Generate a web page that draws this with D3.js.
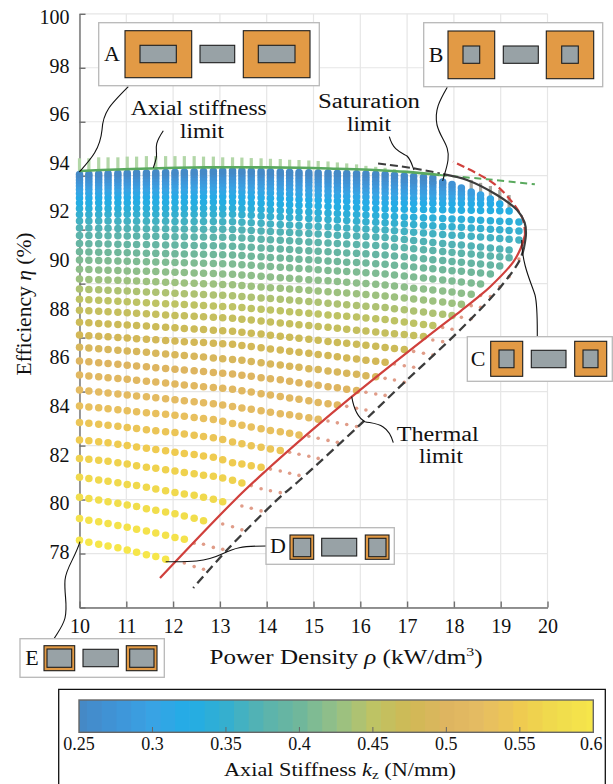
<!DOCTYPE html>
<html>
<head>
<meta charset="utf-8">
<script src="https://cdn.jsdelivr.net/npm/d3@7"></script>
<style>
body { margin: 0; background: #fff; }
svg { display: block; }
svg text { font-family: "Liberation Serif", "Times New Roman", "DejaVu Serif", serif !important; fill: #111; }
</style>
</head>
<body>
<svg id="chart" width="613" height="784"></svg>
<script>
// power density columns of the sweep (kW/dm3)
const rhoColumns = [10,10.2,10.41,10.61,10.82,11.02,11.22,11.43,11.63,11.84,12.04,12.24,12.45,12.65,12.86,13.06,13.27,13.47,13.67,13.88,14.08,14.29,14.49,14.69,14.9,15.1,15.31,15.51,15.71,15.92,16.12,16.33,16.53,16.73,16.94,17.14,17.35,17.55,17.76,17.96,18.16,18.37,18.57,18.78,18.98,19.18,19.39];

// axial stiffness of each row, bottom row first
const kzValues = [0.60,0.59,0.58,0.57,0.56,0.55,0.54,0.53,0.52,0.51,0.50,0.49,0.48,0.47,0.46,0.45,0.44,0.43,0.42,0.41,0.40,0.39,0.38,0.37,0.36,0.35,0.34,0.33,0.32,0.31,0.30,0.29,0.28,0.27,0.26,0.25];

// efficiency per row, one value per column starting at rho = 10
const etaRows = [
[78.48,78.40,78.32,78.25,78.17,78.08,77.99,77.89,77.81,77.70],
[79.38,79.31,79.24,79.17,79.09,79.02,78.94,78.86,78.78,78.69,78.60,78.52],
[80.25,80.20,80.14,80.07,80.00,79.93,79.87,79.78,79.72,79.65,79.57,79.48,79.39,79.29],
[81.07,81.02,80.96,80.91,80.85,80.78,80.73,80.66,80.59,80.52,80.45,80.39,80.33,80.25,80.17,80.07],
[81.85,81.81,81.77,81.73,81.67,81.62,81.55,81.49,81.44,81.38,81.33,81.27,81.22,81.16,81.11,81.04,80.95,80.84],
[82.61,82.57,82.53,82.49,82.43,82.38,82.32,82.27,82.21,82.16,82.10,82.05,82.01,81.95,81.90,81.79,81.67,81.62,81.55,81.48],
[83.33,83.29,83.25,83.21,83.17,83.12,83.08,83.03,82.99,82.95,82.91,82.85,82.80,82.75,82.70,82.63,82.52,82.45,82.37,82.31,82.24,82.17],
[84.00,83.96,83.93,83.89,83.85,83.81,83.77,83.73,83.70,83.66,83.62,83.58,83.53,83.49,83.45,83.38,83.28,83.21,83.14,83.07,83.00,82.94,82.88,82.81],
[84.66,84.62,84.58,84.54,84.50,84.46,84.42,84.38,84.34,84.30,84.26,84.22,84.18,84.14,84.10,84.05,83.98,83.92,83.87,83.81,83.75,83.69,83.64,83.58,83.52,83.46],
[85.28,85.24,85.21,85.17,85.13,85.10,85.06,85.02,84.99,84.95,84.91,84.87,84.84,84.80,84.76,84.73,84.69,84.63,84.58,84.51,84.46,84.39,84.33,84.28,84.22,84.15,84.10,84.05],
[85.85,85.82,85.78,85.75,85.72,85.68,85.65,85.62,85.58,85.55,85.52,85.48,85.45,85.42,85.38,85.35,85.32,85.27,85.23,85.17,85.12,85.08,85.02,84.96,84.91,84.86,84.80,84.75,84.69,84.64],
[86.42,86.39,86.36,86.33,86.30,86.27,86.24,86.21,86.17,86.14,86.11,86.08,86.05,86.02,85.98,85.95,85.92,85.88,85.83,85.78,85.73,85.69,85.64,85.60,85.54,85.50,85.44,85.40,85.35,85.31,85.25,85.21],
[86.92,86.89,86.87,86.85,86.82,86.80,86.77,86.75,86.73,86.70,86.68,86.65,86.63,86.61,86.58,86.56,86.54,86.49,86.45,86.40,86.35,86.31,86.26,86.21,86.17,86.12,86.08,86.03,85.98,85.94,85.89,85.84,85.80],
[87.45,87.43,87.40,87.38,87.36,87.33,87.31,87.29,87.26,87.24,87.22,87.19,87.17,87.15,87.12,87.10,87.08,87.04,87.00,86.96,86.91,86.87,86.83,86.79,86.75,86.71,86.66,86.62,86.58,86.54,86.50,86.46,86.41,86.37,86.33],
[87.94,87.92,87.90,87.88,87.86,87.84,87.82,87.80,87.78,87.75,87.73,87.71,87.69,87.67,87.65,87.63,87.61,87.57,87.54,87.50,87.46,87.42,87.39,87.35,87.31,87.27,87.24,87.20,87.16,87.12,87.09,87.05,87.01,86.97,86.94,86.90,86.86],
[88.39,88.37,88.35,88.33,88.31,88.29,88.27,88.25,88.23,88.21,88.20,88.18,88.16,88.14,88.12,88.10,88.08,88.05,88.01,87.98,87.95,87.92,87.88,87.85,87.82,87.79,87.75,87.72,87.69,87.66,87.62,87.59,87.56,87.51,87.46,87.41,87.36,87.31],
[88.81,88.79,88.78,88.76,88.74,88.73,88.71,88.69,88.68,88.66,88.64,88.62,88.61,88.59,88.57,88.56,88.54,88.51,88.48,88.45,88.42,88.39,88.36,88.33,88.30,88.27,88.23,88.20,88.17,88.14,88.11,88.08,88.05,88.00,87.96,87.91,87.87,87.82,87.78,87.73],
[89.23,89.21,89.20,89.18,89.17,89.15,89.14,89.12,89.11,89.09,89.08,89.06,89.05,89.03,89.02,89.00,88.99,88.96,88.93,88.90,88.87,88.85,88.82,88.79,88.76,88.73,88.70,88.67,88.65,88.62,88.59,88.56,88.53,88.49,88.45,88.40,88.36,88.32,88.28,88.23,88.19],
[89.63,89.62,89.60,89.59,89.58,89.56,89.55,89.54,89.53,89.51,89.50,89.49,89.47,89.46,89.45,89.43,89.42,89.39,89.37,89.34,89.31,89.28,89.26,89.23,89.20,89.17,89.15,89.12,89.09,89.06,89.04,89.01,88.98,88.94,88.90,88.85,88.81,88.77,88.73,88.69,88.64,88.60],
[90.01,90.00,89.99,89.98,89.97,89.96,89.95,89.94,89.93,89.91,89.90,89.89,89.88,89.87,89.86,89.85,89.84,89.81,89.79,89.76,89.74,89.71,89.69,89.66,89.64,89.61,89.58,89.56,89.53,89.51,89.48,89.46,89.43,89.39,89.35,89.31,89.27,89.23,89.18,89.14,89.10,89.06,89.02],
[90.35,90.34,90.33,90.32,90.32,90.31,90.30,90.29,90.28,90.27,90.26,90.25,90.25,90.24,90.23,90.22,90.21,90.19,90.16,90.14,90.11,90.09,90.07,90.04,90.02,90.00,89.97,89.95,89.92,89.90,89.88,89.85,89.83,89.79,89.76,89.72,89.68,89.65,89.61,89.57,89.54,89.50,89.47,89.43],
[90.69,90.68,90.68,90.67,90.66,90.65,90.65,90.64,90.63,90.62,90.62,90.61,90.60,90.59,90.59,90.58,90.57,90.55,90.53,90.50,90.48,90.46,90.44,90.41,90.39,90.37,90.35,90.32,90.30,90.28,90.26,90.23,90.21,90.17,90.14,90.10,90.06,90.02,89.99,89.95,89.91,89.87,89.84,89.80,89.76],
[91.02,91.01,91.01,91.00,91.00,90.99,90.99,90.98,90.98,90.97,90.96,90.96,90.95,90.95,90.94,90.94,90.93,90.91,90.89,90.86,90.84,90.82,90.80,90.78,90.75,90.73,90.71,90.69,90.67,90.65,90.62,90.60,90.58,90.54,90.51,90.47,90.43,90.40,90.36,90.32,90.28,90.25,90.21,90.17,90.14,90.10],
[91.32,91.32,91.31,91.31,91.30,91.30,91.30,91.29,91.29,91.29,91.28,91.28,91.28,91.27,91.27,91.27,91.26,91.24,91.22,91.20,91.18,91.16,91.14,91.12,91.10,91.08,91.06,91.03,91.01,90.99,90.97,90.95,90.93,90.89,90.85,90.81,90.77,90.73,90.69,90.65,90.62,90.58,90.54,90.50,90.46,90.42],
[91.61,91.61,91.61,91.61,91.60,91.60,91.60,91.60,91.60,91.60,91.59,91.59,91.59,91.59,91.59,91.58,91.58,91.56,91.54,91.52,91.49,91.47,91.45,91.43,91.41,91.39,91.37,91.34,91.32,91.30,91.28,91.26,91.24,91.21,91.18,91.15,91.12,91.09,91.06,91.03,91.01,90.98,90.95,90.92,90.89,90.86,90.83],
[91.88,91.88,91.88,91.89,91.89,91.89,91.89,91.89,91.89,91.89,91.89,91.89,91.89,91.89,91.89,91.89,91.89,91.87,91.85,91.82,91.80,91.78,91.76,91.74,91.71,91.69,91.67,91.65,91.63,91.60,91.58,91.56,91.54,91.52,91.49,91.47,91.44,91.42,91.39,91.37,91.35,91.32,91.30,91.27,91.25,91.22,91.20],
[92.13,92.13,92.13,92.13,92.13,92.13,92.14,92.14,92.14,92.14,92.14,92.14,92.14,92.14,92.14,92.14,92.14,92.12,92.10,92.08,92.06,92.04,92.02,92.00,91.98,91.96,91.94,91.92,91.90,91.88,91.86,91.84,91.82,91.80,91.78,91.77,91.75,91.73,91.71,91.69,91.68,91.66,91.64,91.62,91.60,91.59,91.57],
[92.35,92.35,92.36,92.36,92.36,92.36,92.37,92.37,92.37,92.37,92.38,92.38,92.38,92.38,92.39,92.39,92.39,92.37,92.35,92.34,92.32,92.30,92.28,92.26,92.25,92.23,92.21,92.19,92.17,92.16,92.14,92.12,92.10,92.09,92.09,92.08,92.08,92.07,92.07,92.06,92.05,92.05,92.04,92.04,92.03,92.02],
[92.56,92.56,92.57,92.57,92.58,92.58,92.58,92.59,92.59,92.59,92.60,92.60,92.60,92.61,92.61,92.62,92.62,92.60,92.59,92.57,92.55,92.54,92.52,92.50,92.49,92.47,92.45,92.43,92.42,92.40,92.38,92.37,92.35,92.35,92.35,92.34,92.34,92.34,92.33,92.33,92.33,92.32,92.32,92.32,92.31],
[92.74,92.75,92.75,92.76,92.76,92.77,92.77,92.78,92.78,92.79,92.79,92.80,92.80,92.81,92.81,92.82,92.82,92.80,92.79,92.77,92.76,92.74,92.72,92.71,92.69,92.68,92.66,92.64,92.63,92.61,92.60,92.58,92.56,92.56,92.56,92.55,92.55,92.55,92.54,92.54,92.54,92.53,92.53,92.52],
[92.91,92.92,92.92,92.93,92.93,92.94,92.95,92.95,92.96,92.96,92.97,92.98,92.98,92.99,92.99,93.00,93.01,92.99,92.98,92.96,92.95,92.93,92.92,92.90,92.88,92.87,92.85,92.84,92.82,92.81,92.79,92.78,92.76,92.75,92.74,92.74,92.73,92.72,92.71,92.70,92.70,92.69,92.68],
[93.05,93.06,93.06,93.07,93.08,93.09,93.09,93.10,93.11,93.11,93.12,93.13,93.14,93.14,93.15,93.16,93.17,93.15,93.14,93.12,93.11,93.09,93.08,93.06,93.05,93.03,93.02,93.00,92.99,92.97,92.96,92.94,92.93,92.91,92.90,92.88,92.87,92.85,92.84,92.83,92.81,92.80],
[93.17,93.18,93.19,93.20,93.21,93.21,93.22,93.23,93.24,93.25,93.26,93.27,93.27,93.28,93.29,93.30,93.31,93.30,93.28,93.27,93.25,93.24,93.23,93.21,93.20,93.18,93.17,93.16,93.14,93.13,93.12,93.10,93.09,93.07,93.06,93.04,93.03,93.01,93.00,92.98,92.97],
[93.30,93.31,93.32,93.33,93.33,93.34,93.35,93.36,93.37,93.38,93.38,93.39,93.40,93.41,93.42,93.43,93.44,93.43,93.42,93.40,93.39,93.38,93.37,93.35,93.34,93.33,93.32,93.30,93.29,93.28,93.27,93.25,93.24,93.22,93.20,93.18,93.17,93.15,93.13,93.11],
[93.42,93.43,93.44,93.45,93.46,93.47,93.48,93.49,93.49,93.50,93.51,93.52,93.53,93.54,93.55,93.56,93.57,93.56,93.55,93.53,93.52,93.51,93.50,93.49,93.48,93.46,93.45,93.44,93.43,93.42,93.40,93.39,93.38,93.35,93.32,93.29,93.27,93.24,93.21],
[93.52,93.53,93.54,93.55,93.56,93.57,93.58,93.59,93.60,93.61,93.62,93.63,93.64,93.65,93.66,93.67,93.68,93.67,93.66,93.65,93.64,93.63,93.62,93.61,93.60,93.59,93.58,93.57,93.56,93.55,93.54,93.53,93.52,93.49,93.46,93.44,93.41,93.38]
];

// points past the thermal limit: [row, first column, eta values]
const thermalRows = [
[0,11,[77.55,77.40,77.29]],
[1,12,[78.36,78.32,78.19,78.11]],
[2,15,[79.15,79.04,78.91]],
[3,17,[79.89,79.80,79.69]],
[4,18,[80.73,80.60,80.52,80.44]],
[5,20,[81.41,81.33,81.24,81.15]],
[6,22,[82.10,82.02,81.94,81.85]],
[7,24,[82.76,82.68,82.59,82.51]],
[8,26,[83.39,83.31,83.24,83.16]],
[9,28,[83.99,83.91,83.84]],
[10,30,[84.57,84.50,84.44]],
[11,32,[85.14,85.07,84.98]],
[12,33,[85.73,85.66,85.60]],
[13,35,[86.25,86.17,86.10]],
[14,37,[86.72,86.65]],
[15,38,[87.23,87.16]],
[16,40,[87.65,87.59]],
[17,41,[88.13,88.06]],
[18,42,[88.55,88.50]],
[19,44,[88.91]],
[20,45,[89.32]],
[22,46,[90.05]]
];

// top of the stacks past the stiffness limit, columns 0 to 34
const stiffnessTop = [94.19,94.19,94.23,94.23,94.23,94.26,94.26,94.28,94.28,94.28,94.28,94.28,94.28,94.26,94.26,94.23,94.23,94.22,94.20,94.19,94.17,94.16,94.13,94.12,94.10,94.08,94.06,94.02,93.98,93.94,93.88,93.84,93.80,93.74,93.68];

// stacks past the saturation limit
const saturationCols = [41,42,43,44,45];
const saturationTop = [93.30,93.18,93.05,92.89,92.68];
const saturationBase = [92.80,92.68,92.52,92.31,92.02];

// limit curves as [rho, eta]
const stiffnessLimit = [[10,93.67],[10.8,93.73],[11.5,93.77],[12.4,93.81],[13.28,93.82],[14.71,93.80],[15.5,93.76],[16.31,93.71],[17.0,93.63],[17.70,93.50]];
const stiffnessDash = [[17.70,93.50],[18.7,93.33],[19.73,93.12]];
const saturationSolid = [[17.77,93.54],[18.28,93.30],[18.92,92.68],[19.35,92.06],[19.51,91.55],[19.54,91.12],[19.50,90.54]];
const saturationDashTop = [[16.38,93.98],[17.13,93.78],[17.70,93.57]];
const saturationDash = [[19.50,90.54],[19.41,90.01],[18.98,88.86],[18.13,87.13],[16.95,84.99],[16.06,83.35],[14.71,80.96],[14.22,80.14],[13.15,78.08],[12.43,76.52]];
const thermalSolid = [[11.72,76.93],[13.32,80.14],[14.0,81.37],[14.93,82.95],[15.82,84.39],[17.42,86.84],[18.17,87.95],[18.49,88.44],[18.77,88.90],[19.27,89.93],[19.43,90.50],[19.52,91.04]];
const thermalDash = [[19.52,91.04],[19.48,91.65],[19.26,92.35],[18.84,93.17],[17.98,94.05]];

// colour bar
const kzStops = [0.25,0.275,0.30,0.325,0.35,0.375,0.40,0.425,0.45,0.475,0.50,0.525,0.55,0.575,0.60];
const kzColors = ["#4589c6","#3f94d8","#38a3e4","#22ade6","#35afcf","#58b3af","#70b79b","#95c086","#bec364","#d0b955","#deb560","#e6bd62","#efcb50","#f0dc4c","#f6e64a"];
const kzTicks = [0.25,0.3,0.35,0.4,0.45,0.5,0.55,0.6];

const rhoTicks = [10,11,12,13,14,15,16,17,18,19,20];
const etaLabels = [100,98,96,94,92,90,88,86,84,82,80,78];
const gridLines = [0,1,2,3,4,5,6,7,8,9,10,11];

const ORANGE = "#e29a45", STEEL = "#98a2a6";

var svg = d3.select("#chart");
var x = d3.scaleLinear().domain([10, 20]).range([79.5, 547.5]);
var y = d3.scaleLinear().domain([78, 100]).range([552, 17]);
// the horizontal grid does not sit on the labels in the source figure
var gridY = d3.scaleLinear().domain([0, 11]).range([13.8, 607.5]);
var kzColor = d3.scaleLinear().domain(kzStops).range(kzColors);

// grid
var grid = svg.append("g").attr("stroke", "#e6e6e6").attr("stroke-width", 1.2);
grid.selectAll("line.v").data(rhoTicks).join("line")
    .attr("x1", d => x(d)).attr("x2", d => x(d))
    .attr("y1", gridY(0)).attr("y2", gridY(11));
grid.selectAll("line.h").data(gridLines).join("line")
    .attr("x1", x(10)).attr("x2", x(20))
    .attr("y1", d => gridY(d)).attr("y2", d => gridY(d));

// axes go under the points
var yGrid = d3.axisLeft(gridY).tickValues(gridLines).tickSizeInner(-6).tickSizeOuter(0).tickFormat("");
var gy = svg.append("g").attr("transform", "translate(" + x(10) + ",0)").call(yGrid);
gy.selectAll("line,path").attr("stroke", "#6f6f6f").attr("stroke-width", 1.4);

var gx = svg.append("g").attr("transform", "translate(0," + gridY(11) + ")")
    .call(d3.axisBottom(x).tickValues(rhoTicks).tickSizeInner(-6).tickSizeOuter(0).tickPadding(11).tickFormat(d3.format("d")));
gx.selectAll("line,path").attr("stroke", "#6f6f6f").attr("stroke-width", 1.4);
gx.selectAll("text").attr("font-size", 20).attr("fill", "#111");

var gyl = svg.append("g").attr("transform", "translate(" + x(10) + ",0)")
    .call(d3.axisLeft(y).tickValues(etaLabels).tickSize(0).tickPadding(10).tickFormat(d3.format("d")));
gyl.select("path").remove();
gyl.selectAll("text").attr("font-size", 20).attr("fill", "#111");

// stacks past the limits, under the main points
svg.append("g").attr("stroke", "#b3d7a8").attr("stroke-width", 3.2)
    .selectAll("line").data(stiffnessTop).join("line")
    .attr("x1", (d, i) => x(rhoColumns[i])).attr("x2", (d, i) => x(rhoColumns[i]))
    .attr("y1", d => y(d)).attr("y2", (d, i) => y(etaRows[35][Math.min(i, 37)]));
svg.append("g").attr("stroke", "#a9a9a2").attr("stroke-width", 3.2)
    .selectAll("line").data(saturationCols).join("line")
    .attr("x1", d => x(rhoColumns[d])).attr("x2", d => x(rhoColumns[d]))
    .attr("y1", (d, i) => y(saturationTop[i])).attr("y2", (d, i) => y(saturationBase[i]));

// main points
var points = [];
etaRows.forEach((row, r) => row.forEach((eta, c) => points.push({ rho: rhoColumns[c], eta: eta, kz: kzValues[r] })));
svg.append("g").selectAll("circle").data(points).join("circle")
    .attr("cx", d => x(d.rho)).attr("cy", d => y(d.eta)).attr("r", 3.75)
    .attr("fill", d => kzColor(d.kz));

// points past the thermal limit
var faded = [];
thermalRows.forEach(t => t[2].forEach((eta, i) => faded.push({ rho: rhoColumns[t[1] + i], eta: eta })));
svg.append("g").selectAll("circle").data(faded).join("circle")
    .attr("cx", d => x(d.rho)).attr("cy", d => y(d.eta)).attr("r", 1.8)
    .attr("fill", "#e09c88");

// limit curves
var line = d3.line().x(d => x(d[0])).y(d => y(d[1])).curve(d3.curveCatmullRom.alpha(0.5));
function limit(data, color, width, dash) {
    svg.append("path").datum(data).attr("d", line)
        .attr("fill", "none").attr("stroke", color).attr("stroke-width", width)
        .attr("stroke-dasharray", dash || null);
}
limit(saturationDashTop, "#3c3c3c", 2, "8,4");
limit(saturationDash, "#3c3c3c", 2.3, "9,5");
limit(stiffnessDash, "#5aa95e", 2, "7,4.5");
limit(thermalDash, "#d0403c", 2.2, "8,4");
limit(thermalSolid, "#d0403c", 2.2);
limit(saturationSolid, "#3c3c3c", 2.2);
limit(stiffnessLimit, "#5aa95e", 2.6);

// axis titles, stretched to the width of the original type
var xt = svg.append("text").attr("x", 346).attr("y", 664).attr("text-anchor", "middle").attr("font-size", 20.5)
    .attr("textLength", 273).attr("lengthAdjust", "spacingAndGlyphs");
xt.append("tspan").text("Power Density ");
xt.append("tspan").attr("font-style", "italic").text("ρ");
xt.append("tspan").text(" (kW/dm");
xt.append("tspan").attr("font-size", 13).attr("dy", -8).text("3");
xt.append("tspan").attr("dy", 8).text(")");

var yt = svg.append("text").attr("transform", "translate(31,304) rotate(-90)").attr("text-anchor", "middle").attr("font-size", 20)
    .attr("textLength", 143).attr("lengthAdjust", "spacingAndGlyphs");
yt.append("tspan").text("Efficiency ");
yt.append("tspan").attr("font-style", "italic").text("η");
yt.append("tspan").text(" (%)");

// leaders
const leaders = [
    "M128.3,86.7 C110,105 103,112 102,130 C100,150 90,160 79.3,172",
    "M163.3,130.7 C155,143 156,147 156.5,153 C157,158 155,163 153.3,167.7",
    "M389.3,136.7 C393,150 400,152 407,156 C411,160 412,165 414,170",
    "M447.3,87.3 C440,100 434,110 437,125 C441,140 450,145 448,160 C447,168 444,175 442.7,181",
    "M521.7,240 C522,265 531,282 535,295 C537.5,305 537.3,320 537.3,336.7",
    "M266.7,546 C240,546 235,548 222,554 C205,562 190,562 165.7,561.7",
    "M80,541.7 C75,558 66,568 65,580 C64,595 68,605 65,618 C63,626 58,632 54.3,638.3",
    "M351.7,396.7 C354,410 358,418 365,421.7 C375,424 388,423 393.3,442.7"
];
svg.append("g").attr("fill", "none").attr("stroke", "#111").attr("stroke-width", 1.1)
    .selectAll("path").data(leaders).join("path").attr("d", d => d);

// annotation labels
const notes = [
    ["Axial stiffness", 198.7, 115, 136], ["limit", 202, 137.7, 44],
    ["Saturation", 369, 108, 102], ["limit", 369, 130.7, 44],
    ["Thermal", 437.7, 441, 82], ["limit", 441, 463.3, 44]
];
svg.append("g").selectAll("text").data(notes).join("text")
    .attr("x", d => d[1]).attr("y", d => d[2]).attr("text-anchor", "middle").attr("font-size", 20)
    .attr("textLength", d => d[3]).attr("lengthAdjust", "spacingAndGlyphs").text(d => d[0]);

// cross-section insets: box, letter x, outer halves, core, inner windows
const insets = [
    { name: "A", box: [98.7, 22.7, 220.6, 63], lx: 112, outer: [[125, 30.7, 66.7, 47], [243.3, 30.7, 66.7, 47]], inner: [[140, 45.3, 36.3, 17.4], [258.3, 45.3, 36.7, 17.4]], core: [200, 45.3, 34.7, 17.4] },
    { name: "B", box: [423.7, 22.7, 179, 64], lx: 436, outer: [[448, 31, 46.7, 47.7], [546.3, 31, 47.4, 47.7]], inner: [[463, 46, 16.7, 17.3], [561.7, 46, 16.6, 17.3]], core: [503.3, 46, 35, 17.3] },
    { name: "C", box: [467.3, 336.7, 145, 44.6], lx: 478, outer: [[490.7, 341.3, 32, 35], [574.7, 341.3, 32, 35]], inner: [[499, 350, 15, 17.7], [583, 350, 15, 17.7]], core: [531.3, 350.3, 34.7, 17.4] },
    { name: "D", box: [266, 527.7, 128.3, 36.6], lx: 278, outer: [[290, 535, 23.7, 24.3], [365.3, 535, 23.7, 24.3]], inner: [[293.3, 538.3, 17.4, 18.4], [368.7, 538.3, 17.3, 18.4]], core: [321.7, 538.3, 35, 17.7] },
    { name: "E", box: [20, 638.7, 144.3, 38.6], lx: 32, outer: [[44, 645.7, 30.7, 25], [126.3, 645.7, 30.7, 25]], inner: [[47, 649, 24.7, 18.3], [129.7, 649, 24.3, 18.3]], core: [83, 649.3, 35.3, 17.4] }
];
function rectFrom(sel, r, fill, stroke, sw) {
    sel.append("rect").attr("x", r[0]).attr("y", r[1]).attr("width", r[2]).attr("height", r[3])
        .attr("fill", fill).attr("stroke", stroke).attr("stroke-width", sw);
}
insets.forEach(function (a) {
    var g = svg.append("g");
    rectFrom(g, a.box, "#fff", "#b8b8b8", 1.3);
    a.outer.forEach(r => rectFrom(g, r, ORANGE, "#1d1d1d", 1.1));
    a.inner.forEach(r => rectFrom(g, r, STEEL, "#1d1d1d", 1.1));
    rectFrom(g, a.core, STEEL, "#1d1d1d", 1.1);
    g.append("text").attr("x", a.lx).attr("y", a.box[1] + a.box[3] / 2 + 7)
        .attr("text-anchor", "middle").attr("font-size", 22).text(a.name);
});

// colour bar panel, frame runs off the bottom of the page
var kzX = d3.scaleLinear().domain([0.25, 0.6]).range([79, 593.3]);
svg.append("path").attr("d", "M58.7,790 V689.3 H605.3 V790")
    .attr("fill", "none").attr("stroke", "#111").attr("stroke-width", 1.3);
svg.append("g").selectAll("rect").data(kzValues).join("rect")
    .attr("x", d => kzX(d) - (d === 0.25 ? 0 : 7.35))
    .attr("width", d => d === 0.6 ? 7.35 : (d === 0.25 ? 8 : 15.4))
    .attr("y", 700).attr("height", 32.3)
    .attr("fill", d => kzColor(d));
svg.append("rect").attr("x", kzX(0.25)).attr("y", 700).attr("width", kzX(0.6) - kzX(0.25)).attr("height", 32.3)
    .attr("fill", "none").attr("stroke", "#666").attr("stroke-width", 1.4);
svg.append("g").attr("stroke", "#666").attr("stroke-width", 1)
    .selectAll("line").data(kzTicks.slice(1, -1)).join("line")
    .attr("x1", d => kzX(d)).attr("x2", d => kzX(d)).attr("y1", 727).attr("y2", 732.3);
svg.append("g").selectAll("text").data(kzTicks).join("text")
    .attr("x", d => d === 0.6 ? kzX(d) - 2 : kzX(d)).attr("y", 750).attr("text-anchor", "middle").attr("font-size", 18)
    .text(d => d3.format("")(d));
var kt = svg.append("text").attr("x", 340).attr("y", 776).attr("text-anchor", "middle").attr("font-size", 19)
    .attr("textLength", 232).attr("lengthAdjust", "spacingAndGlyphs");
kt.append("tspan").text("Axial Stiffness ");
kt.append("tspan").attr("font-style", "italic").text("k");
kt.append("tspan").attr("font-size", 13).attr("dy", 3).text("z");
kt.append("tspan").attr("dy", -3).text(" (N/mm)");
</script>
</body>
</html>
